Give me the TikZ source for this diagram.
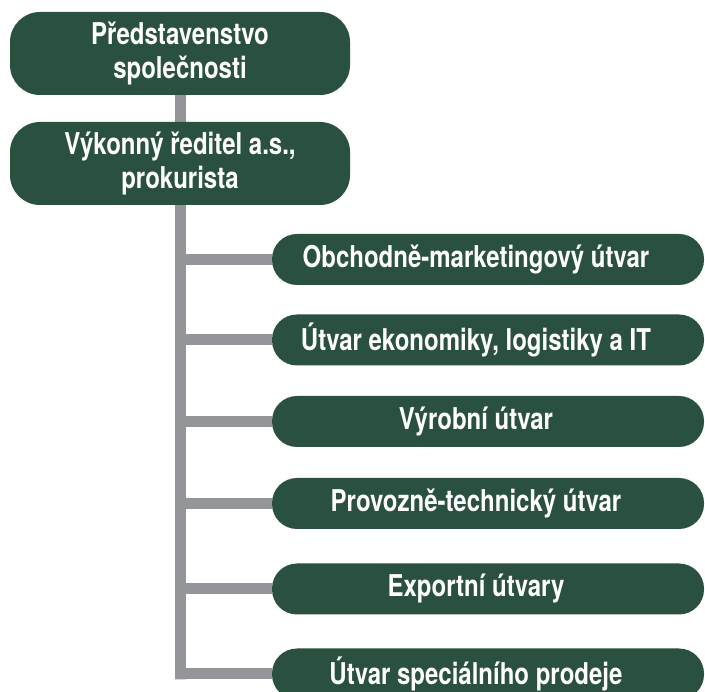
\documentclass[tikz,border=0pt]{standalone}
\usepackage{fontspec}
\setmainfont[FakeStretch=0.8]{TeX Gyre Heros}
\usetikzlibrary{backgrounds}
\definecolor{boxgreen}{HTML}{2A5140}
\definecolor{conngray}{HTML}{939598}
\tikzset{
  topbox/.style={fill=boxgreen, rounded corners=30pt, minimum width=340pt, minimum height=83pt, inner sep=0pt},
  unitbox/.style={fill=boxgreen, rounded corners=25pt, minimum width=432pt, minimum height=51pt, inner sep=0pt},
  boxtext/.style={text=white, font=\fontsize{30}{34}\selectfont\bfseries, align=center, inner sep=0pt},
  conn/.style={draw=conngray, line width=11pt, line join=miter, line cap=butt}
}
\begin{document}
\begin{tikzpicture}[x=1pt,y=-1pt]
\useasboundingbox (0,0) rectangle (705,692);
% top boxes
\node[topbox] (board) at (180,53.5) {};
\node[boxtext] (boardt) at (180,53.5) {Představenstvo\\společnosti};
\node[topbox] (ceo) at (180,163.5) {};
\node[boxtext] (ceot) at (180,163.5) {Výkonný ředitel a.s.,\\prokurista};
% unit boxes
\node[unitbox] (u1) at (488,259.5) {};
\node[boxtext] (u1t) at (476,259.5) {Obchodně-marketingový útvar};
\node[unitbox] (u2) at (488,340) {};
\node[boxtext] (u2t) at (476,340) {Útvar ekonomiky, logistiky a IT};
\node[unitbox] (u3) at (488,421.5) {};
\node[boxtext] (u3t) at (476,421.5) {Výrobní útvar};
\node[unitbox] (u4) at (488,503.5) {};
\node[boxtext] (u4t) at (476,503.5) {Provozně-technický útvar};
\node[unitbox] (u5) at (488,589) {};
\node[boxtext] (u5t) at (476,589) {Exportní útvary};
\node[unitbox] (u6) at (488,674) {};
\node[boxtext] (u6t) at (476,674) {Útvar speciálního prodeje};
\coordinate (trunk) at (180.5,0);
\begin{scope}[on background layer]
\draw[conn] (board.south -| trunk) -- (ceo.north -| trunk);
\draw[conn] (ceo.south -| trunk) -- ([yshift=-5.5pt]trunk |- u6.west) -- (trunk |- u6.west) -- (u6.west);
\foreach \u in {u1,u2,u3,u4,u5}{
  \draw[conn] (trunk |- \u.west) -- (\u.west);
}
\end{scope}
\end{tikzpicture}
\end{document}
